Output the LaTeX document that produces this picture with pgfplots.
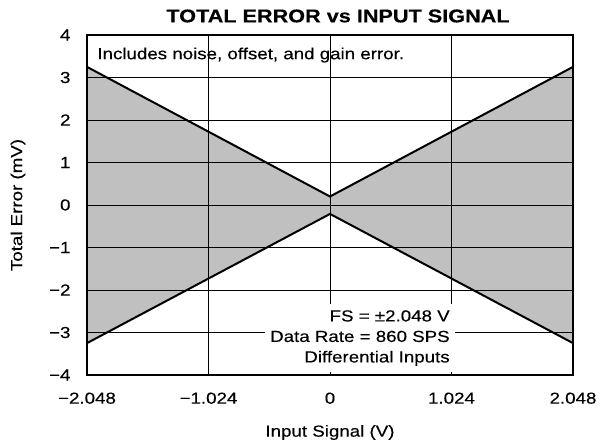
\documentclass[border=0pt]{standalone}
\usepackage{fontspec}
\setmainfont{Liberation Sans}[FakeStretch=1.17, FakeBold=0.3]
\usepackage{pgfplots}
\pgfplotsset{compat=1.18}
\definecolor{shade}{RGB}{192,192,192}
\begin{document}
\begin{tikzpicture}
\fontsize{16}{19}\selectfont
\begin{axis}[
  set layers,
  scale only axis,
  width=486pt, height=340pt,
  at={(0,0)}, anchor=south west,
  xmin=-2.048, xmax=2.048, ymin=-4, ymax=4,
  xtick={-2.048,-1.024,0,1.024,2.048},
  xticklabels={−2.048,−1.024,0,1.024,2.048},
  ytick={-4,-3,-2,-1,0,1,2,3,4},
  yticklabels={−4,−3,−2,−1,0,1,2,3,4},
  tick label style={font=\fontsize{16}{19}\selectfont},
  xticklabel style={yshift=-12pt},
  yticklabel style={xshift=-11pt},
  tick align=inside,
  major tick length=4pt,
  tick style={black, line width=0.8pt},
  grid=major,
  major grid style={black, line width=0.9pt},
  axis line style={line width=2pt},
  clip=false,
]
\addplot[on layer=axis background, fill=shade, draw=none] coordinates {
  (-2.048,3.25) (0,0.20) (2.048,3.25) (2.048,-3.25) (0,-0.21) (-2.048,-3.25)
} -- cycle;
\addplot[black, line width=2pt] coordinates {(-2.048,3.25) (0,0.20) (2.048,3.25)};
\addplot[black, line width=2pt] coordinates {(-2.048,-3.25) (0,-0.21) (2.048,-3.25)};
\node[anchor=west, inner sep=0pt] at (rel axis cs:0.021,0.941) {Includes noise, offset, and gain error.};
\node[fill=white, anchor=south east, align=right, inner xsep=5pt, inner ysep=6pt, font=\fontsize{16}{20.5}\selectfont]
  at (rel axis cs:0.757,0.009) {FS = ±2.048 V\\Data Rate = 860 SPS\\Differential Inputs};
\end{axis}
\node[font=\bfseries\fontsize{18.5}{22}\selectfont] at (251pt,359pt) {TOTAL ERROR vs INPUT SIGNAL};
\node at (243pt,-57.5pt) {Input Signal (V)};
\node[rotate=90] at (-69pt,170pt) {Total Error (mV)};
\path (-87pt,-70pt) rectangle (526pt,375pt);
\end{tikzpicture}
\end{document}
